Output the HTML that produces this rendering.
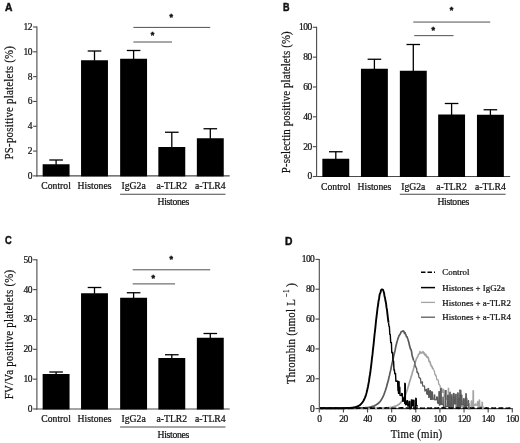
<!DOCTYPE html>
<html><head><meta charset="utf-8"><title>Figure</title>
<style>
html,body{margin:0;padding:0;background:#fff;}
svg{display:block;filter:blur(0.3px);font-family:"Liberation Serif",serif;fill:#111;}
text{stroke:#111;stroke-width:0.22px;}
</style></head><body>
<svg width="520" height="443" viewBox="0 0 520 443">
<rect width="520" height="443" fill="#fff"/>
<line x1="36.90" y1="26.50" x2="36.90" y2="176.40" stroke="#4a4a4a" stroke-width="1.1"/>
<line x1="36.40" y1="175.90" x2="229.70" y2="175.90" stroke="#4a4a4a" stroke-width="1.1"/>
<line x1="33.10" y1="175.90" x2="36.90" y2="175.90" stroke="#4a4a4a" stroke-width="1.1"/>
<text x="31.90" y="178.80" font-size="9.5" text-anchor="end" letter-spacing="-0.55">0</text>
<line x1="33.10" y1="151.08" x2="36.90" y2="151.08" stroke="#4a4a4a" stroke-width="1.1"/>
<text x="31.90" y="153.98" font-size="9.5" text-anchor="end" letter-spacing="-0.55">2</text>
<line x1="33.10" y1="126.27" x2="36.90" y2="126.27" stroke="#4a4a4a" stroke-width="1.1"/>
<text x="31.90" y="129.17" font-size="9.5" text-anchor="end" letter-spacing="-0.55">4</text>
<line x1="33.10" y1="101.45" x2="36.90" y2="101.45" stroke="#4a4a4a" stroke-width="1.1"/>
<text x="31.90" y="104.35" font-size="9.5" text-anchor="end" letter-spacing="-0.55">6</text>
<line x1="33.10" y1="76.63" x2="36.90" y2="76.63" stroke="#4a4a4a" stroke-width="1.1"/>
<text x="31.90" y="79.53" font-size="9.5" text-anchor="end" letter-spacing="-0.55">8</text>
<line x1="33.10" y1="51.82" x2="36.90" y2="51.82" stroke="#4a4a4a" stroke-width="1.1"/>
<text x="31.90" y="54.72" font-size="9.5" text-anchor="end" letter-spacing="-0.55">10</text>
<line x1="33.10" y1="27.00" x2="36.90" y2="27.00" stroke="#4a4a4a" stroke-width="1.1"/>
<text x="31.90" y="29.90" font-size="9.5" text-anchor="end" letter-spacing="-0.55">12</text>
<rect x="42.65" y="164.25" width="26.9" height="12.15" fill="#000"/>
<line x1="56.10" y1="160.00" x2="56.10" y2="164.75" stroke="#000" stroke-width="1.3"/>
<line x1="49.30" y1="160.00" x2="62.90" y2="160.00" stroke="#000" stroke-width="1.3"/>
<rect x="81.05" y="60.25" width="26.9" height="116.15" fill="#000"/>
<line x1="94.50" y1="51.00" x2="94.50" y2="60.75" stroke="#000" stroke-width="1.3"/>
<line x1="87.70" y1="51.00" x2="101.30" y2="51.00" stroke="#000" stroke-width="1.3"/>
<rect x="120.15" y="58.75" width="26.9" height="117.65" fill="#000"/>
<line x1="133.60" y1="50.50" x2="133.60" y2="59.25" stroke="#000" stroke-width="1.3"/>
<line x1="126.80" y1="50.50" x2="140.40" y2="50.50" stroke="#000" stroke-width="1.3"/>
<rect x="158.35" y="147.00" width="26.9" height="29.40" fill="#000"/>
<line x1="171.80" y1="132.25" x2="171.80" y2="147.50" stroke="#000" stroke-width="1.3"/>
<line x1="165.00" y1="132.25" x2="178.60" y2="132.25" stroke="#000" stroke-width="1.3"/>
<rect x="196.85" y="138.25" width="26.9" height="38.15" fill="#000"/>
<line x1="210.30" y1="128.75" x2="210.30" y2="138.75" stroke="#000" stroke-width="1.3"/>
<line x1="203.50" y1="128.75" x2="217.10" y2="128.75" stroke="#000" stroke-width="1.3"/>
<text x="56.10" y="189.00" font-size="9.7" text-anchor="middle" >Control</text>
<text x="94.50" y="189.00" font-size="9.7" text-anchor="middle" >Histones</text>
<text x="133.60" y="189.00" font-size="9.7" text-anchor="middle" >IgG2a</text>
<text x="171.80" y="189.00" font-size="9.7" text-anchor="middle" >a-TLR2</text>
<text x="210.30" y="189.00" font-size="9.7" text-anchor="middle" >a-TLR4</text>
<line x1="120.10" y1="194.25" x2="225.50" y2="194.25" stroke="#4a4a4a" stroke-width="1"/>
<text x="173.25" y="204.85" font-size="9.7" text-anchor="middle" letter-spacing="-0.3">Histones</text>
<line x1="133.40" y1="27.40" x2="210.20" y2="27.40" stroke="#505050" stroke-width="1.0"/>
<text x="171.30" y="19.90" font-size="9" text-anchor="middle" font-family="Liberation Sans, sans-serif" font-weight="bold" style="stroke-width:0.5px">*</text>
<line x1="133.40" y1="42.00" x2="172.00" y2="42.00" stroke="#505050" stroke-width="1.0"/>
<text x="152.40" y="38.20" font-size="9" text-anchor="middle" font-family="Liberation Sans, sans-serif" font-weight="bold" style="stroke-width:0.5px">*</text>
<text transform="translate(13.00,102.60) rotate(-90) scale(0.815,1)" font-size="13.3" letter-spacing="0.29" text-anchor="middle">PS-positive platelets (%)</text>
<text transform="translate(5,10.6) scale(1.0,1)" font-size="10.3" font-weight="bold" font-family="Liberation Sans, sans-serif" style="stroke-width:0.45px">A</text>
<line x1="316.60" y1="26.80" x2="316.60" y2="177.00" stroke="#4a4a4a" stroke-width="1.1"/>
<line x1="316.10" y1="176.50" x2="510.20" y2="176.50" stroke="#4a4a4a" stroke-width="1.1"/>
<line x1="312.80" y1="176.50" x2="316.60" y2="176.50" stroke="#4a4a4a" stroke-width="1.1"/>
<text x="311.60" y="179.40" font-size="9.5" text-anchor="end" letter-spacing="-0.55">0</text>
<line x1="312.80" y1="146.66" x2="316.60" y2="146.66" stroke="#4a4a4a" stroke-width="1.1"/>
<text x="311.60" y="149.56" font-size="9.5" text-anchor="end" letter-spacing="-0.55">20</text>
<line x1="312.80" y1="116.82" x2="316.60" y2="116.82" stroke="#4a4a4a" stroke-width="1.1"/>
<text x="311.60" y="119.72" font-size="9.5" text-anchor="end" letter-spacing="-0.55">40</text>
<line x1="312.80" y1="86.98" x2="316.60" y2="86.98" stroke="#4a4a4a" stroke-width="1.1"/>
<text x="311.60" y="89.88" font-size="9.5" text-anchor="end" letter-spacing="-0.55">60</text>
<line x1="312.80" y1="57.14" x2="316.60" y2="57.14" stroke="#4a4a4a" stroke-width="1.1"/>
<text x="311.60" y="60.04" font-size="9.5" text-anchor="end" letter-spacing="-0.55">80</text>
<line x1="312.80" y1="27.30" x2="316.60" y2="27.30" stroke="#4a4a4a" stroke-width="1.1"/>
<text x="311.60" y="30.20" font-size="9.5" text-anchor="end" letter-spacing="-0.55">100</text>
<rect x="322.35" y="158.75" width="26.9" height="18.25" fill="#000"/>
<line x1="335.80" y1="151.75" x2="335.80" y2="159.25" stroke="#000" stroke-width="1.3"/>
<line x1="329.00" y1="151.75" x2="342.60" y2="151.75" stroke="#000" stroke-width="1.3"/>
<rect x="360.95" y="68.75" width="26.9" height="108.25" fill="#000"/>
<line x1="374.40" y1="59.25" x2="374.40" y2="69.25" stroke="#000" stroke-width="1.3"/>
<line x1="367.60" y1="59.25" x2="381.20" y2="59.25" stroke="#000" stroke-width="1.3"/>
<rect x="399.85" y="70.75" width="26.9" height="106.25" fill="#000"/>
<line x1="413.30" y1="44.50" x2="413.30" y2="71.25" stroke="#000" stroke-width="1.3"/>
<line x1="406.50" y1="44.50" x2="420.10" y2="44.50" stroke="#000" stroke-width="1.3"/>
<rect x="438.15" y="114.50" width="26.9" height="62.50" fill="#000"/>
<line x1="451.60" y1="103.50" x2="451.60" y2="115.00" stroke="#000" stroke-width="1.3"/>
<line x1="444.80" y1="103.50" x2="458.40" y2="103.50" stroke="#000" stroke-width="1.3"/>
<rect x="476.95" y="114.75" width="26.9" height="62.25" fill="#000"/>
<line x1="490.40" y1="109.75" x2="490.40" y2="115.25" stroke="#000" stroke-width="1.3"/>
<line x1="483.60" y1="109.75" x2="497.20" y2="109.75" stroke="#000" stroke-width="1.3"/>
<text x="335.80" y="189.60" font-size="9.7" text-anchor="middle" >Control</text>
<text x="374.40" y="189.60" font-size="9.7" text-anchor="middle" >Histones</text>
<text x="413.30" y="189.60" font-size="9.7" text-anchor="middle" >IgG2a</text>
<text x="451.60" y="189.60" font-size="9.7" text-anchor="middle" >a-TLR2</text>
<text x="490.40" y="189.60" font-size="9.7" text-anchor="middle" >a-TLR4</text>
<line x1="399.80" y1="194.25" x2="505.60" y2="194.25" stroke="#4a4a4a" stroke-width="1"/>
<text x="453.15" y="204.85" font-size="9.7" text-anchor="middle" letter-spacing="-0.3">Histones</text>
<line x1="413.25" y1="22.05" x2="490.20" y2="22.05" stroke="#505050" stroke-width="1.0"/>
<text x="451.60" y="13.40" font-size="9" text-anchor="middle" font-family="Liberation Sans, sans-serif" font-weight="bold" style="stroke-width:0.5px">*</text>
<line x1="414.25" y1="35.65" x2="453.50" y2="35.65" stroke="#505050" stroke-width="1.0"/>
<text x="433.30" y="32.60" font-size="9" text-anchor="middle" font-family="Liberation Sans, sans-serif" font-weight="bold" style="stroke-width:0.5px">*</text>
<text transform="translate(290.40,102.20) rotate(-90) scale(0.815,1)" font-size="13.3" letter-spacing="0.17" text-anchor="middle">P-selectin positive platelets (%)</text>
<text transform="translate(282.9,10.6) scale(0.88,1)" font-size="10.3" font-weight="bold" font-family="Liberation Sans, sans-serif" style="stroke-width:0.45px">B</text>
<line x1="36.90" y1="259.30" x2="36.90" y2="409.50" stroke="#4a4a4a" stroke-width="1.1"/>
<line x1="36.40" y1="409.00" x2="229.70" y2="409.00" stroke="#4a4a4a" stroke-width="1.1"/>
<line x1="33.10" y1="409.00" x2="36.90" y2="409.00" stroke="#4a4a4a" stroke-width="1.1"/>
<text x="31.90" y="411.90" font-size="9.5" text-anchor="end" letter-spacing="-0.55">0</text>
<line x1="33.10" y1="379.16" x2="36.90" y2="379.16" stroke="#4a4a4a" stroke-width="1.1"/>
<text x="31.90" y="382.06" font-size="9.5" text-anchor="end" letter-spacing="-0.55">10</text>
<line x1="33.10" y1="349.32" x2="36.90" y2="349.32" stroke="#4a4a4a" stroke-width="1.1"/>
<text x="31.90" y="352.22" font-size="9.5" text-anchor="end" letter-spacing="-0.55">20</text>
<line x1="33.10" y1="319.48" x2="36.90" y2="319.48" stroke="#4a4a4a" stroke-width="1.1"/>
<text x="31.90" y="322.38" font-size="9.5" text-anchor="end" letter-spacing="-0.55">30</text>
<line x1="33.10" y1="289.64" x2="36.90" y2="289.64" stroke="#4a4a4a" stroke-width="1.1"/>
<text x="31.90" y="292.54" font-size="9.5" text-anchor="end" letter-spacing="-0.55">40</text>
<line x1="33.10" y1="259.80" x2="36.90" y2="259.80" stroke="#4a4a4a" stroke-width="1.1"/>
<text x="31.90" y="262.70" font-size="9.5" text-anchor="end" letter-spacing="-0.55">50</text>
<rect x="42.65" y="374.00" width="26.9" height="35.50" fill="#000"/>
<line x1="56.10" y1="372.00" x2="56.10" y2="374.50" stroke="#000" stroke-width="1.3"/>
<line x1="49.30" y1="372.00" x2="62.90" y2="372.00" stroke="#000" stroke-width="1.3"/>
<rect x="81.05" y="293.25" width="26.9" height="116.25" fill="#000"/>
<line x1="94.50" y1="287.50" x2="94.50" y2="293.75" stroke="#000" stroke-width="1.3"/>
<line x1="87.70" y1="287.50" x2="101.30" y2="287.50" stroke="#000" stroke-width="1.3"/>
<rect x="120.15" y="297.75" width="26.9" height="111.75" fill="#000"/>
<line x1="133.60" y1="292.75" x2="133.60" y2="298.25" stroke="#000" stroke-width="1.3"/>
<line x1="126.80" y1="292.75" x2="140.40" y2="292.75" stroke="#000" stroke-width="1.3"/>
<rect x="158.35" y="358.00" width="26.9" height="51.50" fill="#000"/>
<line x1="171.80" y1="354.75" x2="171.80" y2="358.50" stroke="#000" stroke-width="1.3"/>
<line x1="165.00" y1="354.75" x2="178.60" y2="354.75" stroke="#000" stroke-width="1.3"/>
<rect x="196.85" y="337.75" width="26.9" height="71.75" fill="#000"/>
<line x1="210.30" y1="333.50" x2="210.30" y2="338.25" stroke="#000" stroke-width="1.3"/>
<line x1="203.50" y1="333.50" x2="217.10" y2="333.50" stroke="#000" stroke-width="1.3"/>
<text x="56.10" y="422.10" font-size="9.7" text-anchor="middle" >Control</text>
<text x="94.50" y="422.10" font-size="9.7" text-anchor="middle" >Histones</text>
<text x="133.60" y="422.10" font-size="9.7" text-anchor="middle" >IgG2a</text>
<text x="171.80" y="422.10" font-size="9.7" text-anchor="middle" >a-TLR2</text>
<text x="210.30" y="422.10" font-size="9.7" text-anchor="middle" >a-TLR4</text>
<line x1="120.10" y1="427.00" x2="225.50" y2="427.00" stroke="#4a4a4a" stroke-width="1"/>
<text x="173.25" y="437.60" font-size="9.7" text-anchor="middle" letter-spacing="-0.3">Histones</text>
<line x1="132.70" y1="269.80" x2="210.20" y2="269.80" stroke="#505050" stroke-width="1.0"/>
<text x="171.20" y="262.30" font-size="9" text-anchor="middle" font-family="Liberation Sans, sans-serif" font-weight="bold" style="stroke-width:0.5px">*</text>
<line x1="132.70" y1="283.90" x2="175.00" y2="283.90" stroke="#505050" stroke-width="1.0"/>
<text x="153.30" y="280.80" font-size="9" text-anchor="middle" font-family="Liberation Sans, sans-serif" font-weight="bold" style="stroke-width:0.5px">*</text>
<text transform="translate(13.00,334.40) rotate(-90) scale(0.815,1)" font-size="13.3" letter-spacing="0.29" text-anchor="middle">FV/Va positive platelets (%)</text>
<text transform="translate(5.1,244.2) scale(0.9,1)" font-size="10.3" font-weight="bold" font-family="Liberation Sans, sans-serif" style="stroke-width:0.45px">C</text>
<line x1="319.30" y1="258.90" x2="319.30" y2="409.10" stroke="#4a4a4a" stroke-width="1.1"/>
<line x1="318.80" y1="408.60" x2="512.80" y2="408.60" stroke="#4a4a4a" stroke-width="1.1"/>
<line x1="315.50" y1="408.60" x2="319.30" y2="408.60" stroke="#4a4a4a" stroke-width="1.1"/>
<text x="314.30" y="411.50" font-size="9.5" text-anchor="end" letter-spacing="-0.55">0</text>
<line x1="315.50" y1="378.76" x2="319.30" y2="378.76" stroke="#4a4a4a" stroke-width="1.1"/>
<text x="314.30" y="381.66" font-size="9.5" text-anchor="end" letter-spacing="-0.55">20</text>
<line x1="315.50" y1="348.92" x2="319.30" y2="348.92" stroke="#4a4a4a" stroke-width="1.1"/>
<text x="314.30" y="351.82" font-size="9.5" text-anchor="end" letter-spacing="-0.55">40</text>
<line x1="315.50" y1="319.08" x2="319.30" y2="319.08" stroke="#4a4a4a" stroke-width="1.1"/>
<text x="314.30" y="321.98" font-size="9.5" text-anchor="end" letter-spacing="-0.55">60</text>
<line x1="315.50" y1="289.24" x2="319.30" y2="289.24" stroke="#4a4a4a" stroke-width="1.1"/>
<text x="314.30" y="292.14" font-size="9.5" text-anchor="end" letter-spacing="-0.55">80</text>
<line x1="315.50" y1="259.40" x2="319.30" y2="259.40" stroke="#4a4a4a" stroke-width="1.1"/>
<text x="314.30" y="262.30" font-size="9.5" text-anchor="end" letter-spacing="-0.55">100</text>
<line x1="319.30" y1="408.60" x2="319.30" y2="412.50" stroke="#4a4a4a" stroke-width="1.1"/>
<text x="319.30" y="421.50" font-size="9.5" text-anchor="middle" letter-spacing="-0.55">0</text>
<line x1="343.43" y1="408.60" x2="343.43" y2="412.50" stroke="#4a4a4a" stroke-width="1.1"/>
<text x="343.43" y="421.50" font-size="9.5" text-anchor="middle" letter-spacing="-0.55">20</text>
<line x1="367.55" y1="408.60" x2="367.55" y2="412.50" stroke="#4a4a4a" stroke-width="1.1"/>
<text x="367.55" y="421.50" font-size="9.5" text-anchor="middle" letter-spacing="-0.55">40</text>
<line x1="391.67" y1="408.60" x2="391.67" y2="412.50" stroke="#4a4a4a" stroke-width="1.1"/>
<text x="391.67" y="421.50" font-size="9.5" text-anchor="middle" letter-spacing="-0.55">60</text>
<line x1="415.80" y1="408.60" x2="415.80" y2="412.50" stroke="#4a4a4a" stroke-width="1.1"/>
<text x="415.80" y="421.50" font-size="9.5" text-anchor="middle" letter-spacing="-0.55">80</text>
<line x1="439.92" y1="408.60" x2="439.92" y2="412.50" stroke="#4a4a4a" stroke-width="1.1"/>
<text x="439.92" y="421.50" font-size="9.5" text-anchor="middle" letter-spacing="-0.55">100</text>
<line x1="464.05" y1="408.60" x2="464.05" y2="412.50" stroke="#4a4a4a" stroke-width="1.1"/>
<text x="464.05" y="421.50" font-size="9.5" text-anchor="middle" letter-spacing="-0.55">120</text>
<line x1="488.17" y1="408.60" x2="488.17" y2="412.50" stroke="#4a4a4a" stroke-width="1.1"/>
<text x="488.17" y="421.50" font-size="9.5" text-anchor="middle" letter-spacing="-0.55">140</text>
<line x1="512.30" y1="408.60" x2="512.30" y2="412.50" stroke="#4a4a4a" stroke-width="1.1"/>
<text x="512.30" y="421.50" font-size="9.5" text-anchor="middle" letter-spacing="-0.55">160</text>
<text transform="translate(416.6,438.3) scale(0.815,1)" font-size="13.3" letter-spacing="0.29" text-anchor="middle">Time (min)</text>
<text transform="translate(294.6,333.5) rotate(-90) scale(0.815,1)" font-size="13.3" letter-spacing="0.29" text-anchor="middle">Thrombin (nmol L<tspan dy="-6" dx="2.4" font-size="8">−</tspan><tspan font-size="8" dx="0.6">1</tspan><tspan dy="6" dx="2.8">)</tspan></text>
<text x="285.1" y="245" font-size="10.3" font-weight="bold" font-family="Liberation Sans, sans-serif" style="stroke-width:0.45px">D</text>
<path d="M320.0,408.2 L320.5,408.1 L321.0,408.3 L321.5,408.1 L322.0,408.3 L322.5,408.2 L323.0,408.1 L323.5,408.3 L324.0,408.1 L324.5,408.2 L325.0,408.1 L325.5,408.1 L326.0,408.2 L326.5,408.3 L327.0,408.1 L327.5,408.2 L328.0,408.3 L328.5,408.4 L329.0,408.3 L329.5,408.2 L330.0,408.4 L330.5,408.1 L331.0,408.4 L331.5,408.2 L332.0,408.1 L332.5,408.1 L333.0,408.2 L333.5,408.3 L334.0,408.2 L334.5,408.3 L335.0,408.3 L335.5,408.2 L336.0,408.3 L336.5,408.1 L337.0,408.1 L337.5,408.2 L338.0,408.3 L338.5,408.2 L339.0,408.2 L339.5,408.3 L340.0,408.2 L340.5,408.2 L341.0,408.3 L341.5,408.3 L342.0,408.2 L342.5,408.3 L343.0,408.3 L343.5,408.4 L344.0,408.3 L344.5,408.2 L345.0,408.4 L345.5,408.1 L346.0,408.2 L346.5,408.3 L347.0,408.1 L347.5,408.2 L348.0,408.1 L348.5,408.3 L349.0,408.3 L349.5,408.3 L350.0,408.4 L350.5,408.2 L351.0,408.3 L351.5,408.3 L352.0,408.3 L352.5,408.2 L353.0,408.4 L353.5,408.4 L354.0,408.2 L354.5,408.3 L355.0,408.1 L355.5,408.3 L356.0,408.3 L356.5,408.4 L357.0,408.3 L357.5,408.2 L358.0,408.2 L358.5,408.3 L359.0,408.1 L359.5,408.2 L360.0,408.1 L360.5,408.1 L361.0,408.1 L361.5,408.3 L362.0,408.1 L362.5,408.2 L363.0,408.2 L363.5,408.4 L364.0,408.1 L364.5,408.2 L365.0,408.3 L365.5,408.4 L366.0,408.3 L366.5,408.4 L367.0,408.2 L367.5,408.2 L368.0,408.2 L368.5,408.4 L369.0,408.4 L369.5,408.1 L370.0,408.1 L370.5,408.2 L371.0,408.1 L371.5,408.2 L372.0,408.3 L372.5,408.2 L373.0,408.1 L373.5,408.2 L374.0,408.2 L374.5,408.2 L375.0,408.3 L375.5,408.3 L376.0,408.2 L376.5,408.2 L377.0,408.2 L377.5,408.0 L378.0,408.3 L378.5,408.3 L379.0,408.3 L379.5,408.2 L380.0,408.1 L380.5,408.1 L381.0,408.0 L381.5,408.1 L382.0,408.0 L382.5,407.9 L383.0,408.0 L383.5,407.9 L384.0,408.0 L384.5,407.9 L385.0,407.8 L385.5,407.8 L386.0,407.8 L386.5,407.8 L387.0,407.7 L387.5,407.9 L388.0,407.8 L388.5,407.6 L389.0,407.6 L389.5,407.5 L390.0,407.5 L390.5,407.3 L391.0,407.5 L391.5,407.4 L392.0,407.2 L392.5,407.1 L393.0,406.8 L393.5,406.7 L394.0,406.6 L394.5,406.4 L395.0,406.4 L395.5,406.0 L396.0,405.8 L396.5,405.8 L397.0,405.5 L397.5,405.1 L398.0,404.9 L398.5,404.4 L399.0,404.2 L399.5,403.9 L400.0,403.4 L400.5,402.9 L401.0,402.2 L401.5,401.7 L402.0,401.0 L402.5,400.4 L403.0,399.6 L403.5,398.8 L404.0,397.7 L404.5,396.6 L405.0,395.7 L405.5,394.5 L406.0,393.2 L406.5,391.9 L407.0,390.5 L407.5,389.2 L408.0,387.2 L408.5,385.9 L409.0,384.1 L409.5,382.2 L410.0,380.4 L410.5,378.9 L411.0,377.1 L411.5,375.7 L412.0,374.2 L412.5,371.9 L413.0,370.6 L413.5,368.9 L414.0,367.1 L414.5,364.9 L415.0,363.2 L415.5,361.6 L416.0,360.1 L416.5,358.7 L417.0,357.8 L417.5,356.9 L418.0,355.8 L418.5,354.5 L419.0,354.1 L419.5,353.8 L420.0,351.7 L420.5,352.6 L421.0,353.0 L421.5,352.6 L422.0,352.6 L422.5,352.1 L423.0,351.7 L423.5,353.3 L424.0,352.7 L424.5,354.1 L425.0,355.0 L425.5,354.3 L426.0,355.0 L426.5,356.9 L427.0,357.1 L427.5,356.7 L428.0,357.5 L428.5,358.5 L429.0,361.1 L429.5,361.9 L430.0,361.6 L430.5,364.1 L431.0,365.6 L431.5,366.1 L432.0,366.6 L432.5,368.2 L433.0,368.6 L433.5,369.5" fill="none" stroke="#a3a3a3" stroke-width="1.7" stroke-linejoin="round"/>
<path d="M433.5,369.5 L434.0,370.7 L434.5,371.1 L434.9,374.7 L435.4,374.5 L435.8,376.1 L436.3,375.8 L436.7,379.5 L437.3,379.5 L437.7,380.0 L438.3,380.1 L438.7,384.1 L439.1,384.1 L439.5,385.1 L440.0,385.3 L440.4,388.2 L441.0,388.2 L441.4,388.3 L441.8,388.1 L442.2,392.2 L442.8,392.3 L443.2,389.3 L443.8,389.3 L444.2,396.7 L445.5,396.7 L445.7,390.7 L446.4,390.5 L446.6,399.4 L448.2,399.1 L448.3,388.2 L448.7,388.4 L448.8,402.3 L449.8,402.5 L450.0,395.5 L450.8,395.2 L450.9,404.5 L452.2,404.9 L452.4,396.6 L452.9,396.4 L453.1,403.6 L454.5,403.2 L454.7,397.0 L455.2,397.2 L455.3,403.4 L456.8,403.8 L457.0,394.3 L457.7,394.1 L457.8,405.7 L459.5,405.9 L459.6,395.3 L460.2,395.5 L460.3,404.3 L461.6,403.9 L460.7,406.7 L460.8,390.2 L461.3,390.6 L461.4,406.7 L461.7,399.8 L462.1,400.2 L462.2,406.8 L463.5,406.7 L463.6,400.0 L464.0,400.1 L464.1,405.9 L465.1,405.6 L465.2,399.4 L465.7,399.4 L465.8,407.9 L466.7,407.7 L466.9,398.7 L467.3,398.6 L467.4,403.9 L468.7,403.9 L468.8,403.6 L469.5,404.1 L469.6,408.7 L471.1,408.7 L471.2,401.2 L471.6,400.8 L471.8,405.9 L472.7,406.1 L472.9,403.4 L473.3,403.2 L472.9,408.4 L473.0,390.6 L473.5,391.0 L473.6,408.4 L473.8,405.0 L474.9,405.4 L475.1,404.1 L475.8,403.9 L476.0,405.2 L477.3,405.2 L477.4,401.9 L477.9,401.5 L478.0,406.3 L479.1,406.1 L479.3,404.9 L479.9,405.1 L479.1,408.4 L479.2,399.8 L479.7,400.2 L479.8,408.4 L480.1,408.7 L480.7,408.5 L481.1,406.2 L481.7,405.8 L482.1,408.7 L482.9,408.7 L481.9,408.4 L482.0,402.0 L482.5,402.4 L482.6,408.4 L483.3,407.1 L483.9,407.1" fill="none" stroke="#a3a3a3" stroke-width="1.25" stroke-linejoin="round"/>
<path d="M320.0,408.4 L320.5,408.3 L321.0,408.3 L321.5,408.3 L322.0,408.4 L322.5,408.3 L323.0,408.3 L323.5,408.2 L324.0,408.1 L324.5,408.1 L325.0,408.2 L325.5,408.1 L326.0,408.4 L326.5,408.3 L327.0,408.3 L327.5,408.3 L328.0,408.3 L328.5,408.2 L329.0,408.1 L329.5,408.3 L330.0,408.3 L330.5,408.2 L331.0,408.3 L331.5,408.3 L332.0,408.1 L332.5,408.3 L333.0,408.2 L333.5,408.1 L334.0,408.2 L334.5,408.3 L335.0,408.2 L335.5,408.3 L336.0,408.4 L336.5,408.2 L337.0,408.2 L337.5,408.2 L338.0,408.3 L338.5,408.3 L339.0,408.3 L339.5,408.3 L340.0,408.1 L340.5,408.1 L341.0,408.2 L341.5,408.3 L342.0,408.2 L342.5,408.3 L343.0,408.1 L343.5,408.1 L344.0,408.2 L344.5,408.3 L345.0,408.3 L345.5,408.3 L346.0,408.2 L346.5,408.2 L347.0,408.2 L347.5,408.2 L348.0,408.1 L348.5,408.3 L349.0,408.1 L349.5,408.4 L350.0,408.4 L350.5,408.1 L351.0,408.2 L351.5,408.3 L352.0,408.3 L352.5,408.2 L353.0,408.1 L353.5,408.1 L354.0,408.3 L354.5,408.1 L355.0,408.2 L355.5,408.1 L356.0,408.2 L356.5,408.3 L357.0,408.0 L357.5,408.2 L358.0,408.1 L358.5,408.2 L359.0,408.2 L359.5,408.0 L360.0,408.2 L360.5,408.0 L361.0,407.9 L361.5,407.9 L362.0,408.0 L362.5,407.9 L363.0,407.9 L363.5,407.8 L364.0,407.8 L364.5,407.8 L365.0,407.9 L365.5,407.6 L366.0,407.8 L366.5,407.8 L367.0,407.5 L367.5,407.7 L368.0,407.5 L368.5,407.5 L369.0,407.3 L369.5,407.2 L370.0,407.1 L370.5,407.2 L371.0,406.9 L371.5,406.7 L372.0,406.6 L372.5,406.4 L373.0,406.2 L373.5,406.0 L374.0,406.1 L374.5,405.7 L375.0,405.6 L375.5,405.2 L376.0,404.9 L376.5,404.6 L377.0,404.2 L377.5,403.9 L378.0,403.7 L378.5,403.2 L379.0,402.7 L379.5,402.1 L380.0,401.6 L380.5,401.0 L381.0,400.2 L381.5,399.5 L382.0,398.4 L382.5,397.7 L383.0,396.6 L383.5,395.6 L384.0,394.4 L384.5,393.0 L385.0,391.5 L385.5,390.3 L386.0,388.4 L386.5,386.9 L387.0,385.1 L387.5,383.2 L388.0,381.5 L388.5,379.8 L389.0,377.1 L389.5,375.4 L390.0,372.9 L390.5,370.9 L391.0,368.5 L391.5,366.0 L392.0,363.7 L392.5,361.4 L393.0,359.7 L393.5,357.0 L394.0,354.4 L394.5,352.8 L395.0,350.7 L395.5,348.1 L396.0,345.7 L396.5,343.8 L397.0,341.8 L397.5,340.3 L398.0,338.4 L398.5,337.1 L399.0,335.7 L399.5,334.9 L400.0,334.5 L400.5,333.4 L401.0,332.1 L401.5,331.6 L402.0,331.5 L402.5,331.2 L403.0,331.2 L403.5,330.9 L404.0,331.7 L404.5,333.4 L405.0,332.6 L405.5,334.1 L406.0,335.2 L406.5,336.7 L407.0,336.7 L407.5,338.2 L408.0,339.5 L408.5,341.3 L409.0,343.0 L409.5,345.6 L410.0,347.2 L410.5,349.1 L411.0,349.5 L411.5,351.4 L412.0,354.7 L412.5,357.0 L413.0,358.2 L413.5,360.4" fill="none" stroke="#5a5a5a" stroke-width="1.7" stroke-linejoin="round"/>
<path d="M413.5,360.4 L414.0,361.1 L414.7,361.5 L415.1,366.3 L415.6,366.0 L416.0,367.8 L416.6,368.1 L417.0,372.4 L417.7,372.0 L418.1,373.9 L418.5,373.5 L418.9,377.5 L419.7,377.7 L420.1,378.8 L420.5,378.5 L420.9,383.1 L421.4,382.9 L421.8,382.0 L422.3,381.8 L422.7,386.0 L423.6,386.2 L424.0,386.3 L424.5,386.0 L424.9,391.0 L425.7,390.7 L426.1,389.3 L426.5,389.6 L426.7,394.0 L427.8,394.4 L427.9,388.7 L428.6,388.5 L428.7,397.4 L429.8,397.2 L429.9,390.8 L430.4,390.6 L430.6,399.4 L431.5,399.3 L431.7,391.7 L432.5,392.1 L432.6,399.3 L434.1,398.9 L434.3,395.1 L434.7,394.8 L434.9,400.0 L436.6,399.7 L436.7,396.8 L437.4,397.1 L437.6,403.1 L438.8,403.4 L438.9,391.6 L439.2,391.6 L439.4,405.2 L440.3,404.8 L440.5,388.8 L441.2,388.6 L441.4,404.4 L442.8,404.2 L442.9,397.1 L443.2,397.3 L443.4,407.2 L445.0,406.8 L445.2,390.9 L445.7,390.6 L445.8,406.5 L447.4,406.3 L447.6,395.3 L448.3,395.4 L448.4,406.9 L449.6,407.1 L449.8,392.6 L450.2,392.2 L450.3,406.4 L451.5,406.8 L451.7,394.7 L452.0,394.3 L452.1,408.2 L453.4,408.0 L453.6,393.3 L454.2,393.7 L454.4,403.8 L455.5,403.9 L455.7,394.4 L456.1,394.2 L456.2,407.8 L457.6,407.7 L457.8,392.7 L458.2,393.0 L458.3,408.7 L459.3,408.6 L459.5,398.3 L459.8,398.1 L459.9,403.4 L461.3,403.8 L459.7,408.1 L459.8,390.0 L460.3,390.4 L460.4,408.1 L461.4,394.9 L461.9,395.2 L462.0,404.6 L463.4,404.3 L463.6,398.6 L464.0,398.7 L464.1,406.3 L465.3,406.5 L465.5,397.7 L466.1,397.7 L465.7,408.4 L465.8,393.6 L466.3,394.0 L466.4,408.4 L466.6,405.2 L467.9,405.3 L468.1,400.9 L468.6,400.6 L468.7,408.7 L469.9,408.7" fill="none" stroke="#5a5a5a" stroke-width="1.25" stroke-linejoin="round"/>
<path d="M320.0,408.2 L320.5,408.2 L321.0,408.4 L321.5,408.4 L322.0,408.2 L322.5,408.2 L323.0,408.3 L323.5,408.2 L324.0,408.1 L324.5,408.4 L325.0,408.2 L325.5,408.3 L326.0,408.2 L326.5,408.4 L327.0,408.2 L327.5,408.1 L328.0,408.1 L328.5,408.3 L329.0,408.3 L329.5,408.4 L330.0,408.1 L330.5,408.3 L331.0,408.2 L331.5,408.2 L332.0,408.1 L332.5,408.2 L333.0,408.3 L333.5,408.4 L334.0,408.1 L334.5,408.2 L335.0,408.3 L335.5,408.4 L336.0,408.1 L336.5,408.1 L337.0,408.4 L337.5,408.4 L338.0,408.2 L338.5,408.1 L339.0,408.4 L339.5,408.2 L340.0,408.3 L340.5,408.3 L341.0,408.3 L341.5,408.1 L342.0,408.3 L342.5,408.1 L343.0,408.2 L343.5,408.3 L344.0,408.3 L344.5,408.1 L345.0,408.1 L345.5,408.1 L346.0,408.1 L346.5,408.1 L347.0,408.0 L347.5,408.0 L348.0,408.1 L348.5,408.2 L349.0,407.9 L349.5,408.0 L350.0,408.0 L350.5,407.8 L351.0,408.0 L351.5,407.7 L352.0,407.8 L352.5,407.7 L353.0,407.7 L353.5,407.5 L354.0,407.4 L354.5,407.4 L355.0,407.2 L355.5,407.2 L356.0,407.0 L356.5,406.8 L357.0,406.5 L357.5,406.5 L358.0,406.2 L358.5,405.9 L359.0,405.7 L359.5,405.4 L360.0,405.0 L360.5,404.5 L361.0,404.1 L361.5,403.5 L362.0,402.9 L362.5,402.3 L363.0,401.5 L363.5,400.7 L364.0,399.8 L364.5,398.6 L365.0,397.6 L365.5,396.1 L366.0,394.8 L366.5,393.1 L367.0,391.1 L367.5,388.8 L368.0,386.5 L368.5,383.6 L369.0,381.2 L369.5,377.2 L370.0,374.5 L370.5,370.9 L371.0,366.8 L371.5,362.8 L372.0,358.0 L372.5,354.4 L373.0,349.4 L373.5,345.2 L374.0,340.4 L374.5,335.0 L375.0,330.9 L375.5,326.3 L376.0,321.0 L376.5,316.8 L377.0,312.9 L377.5,308.4 L378.0,305.3 L378.5,301.3 L379.0,299.0 L379.5,295.3 L380.0,293.6 L380.5,292.6 L381.0,290.2 L381.5,289.5 L382.0,289.6 L382.5,289.5 L383.0,289.8 L383.5,291.2 L384.0,292.7 L384.5,296.0 L385.0,297.9 L385.5,301.1 L386.0,303.0 L386.5,307.4 L387.0,310.0 L387.5,314.6 L388.0,318.9 L388.5,322.7" fill="none" stroke="#000" stroke-width="1.9" stroke-linejoin="round"/>
<path d="M388.5,322.7 L389.0,326.3 L389.4,326.8 L389.8,334.4 L390.3,334.7 L390.7,342.6 L391.4,342.5 L391.8,352.8 L392.6,352.4 L393.0,361.0 L393.6,361.2 L394.0,370.1 L394.4,369.7 L394.8,373.8 L395.5,373.4 L395.9,381.3 L396.7,380.9 L397.1,381.4 L397.6,381.1 L398.0,390.8 L399.0,390.9 L398.5,393.3 L398.6,381.5 L399.1,381.9 L399.2,393.3 L399.4,387.5 L399.8,387.2 L400.0,395.3 L401.6,395.6 L401.7,393.5 L402.3,393.6 L402.7,401.2 L403.5,401.1 L403.9,397.9 L404.6,397.4 L404.7,403.4 L404.8,383.3 L405.3,383.7 L405.4,403.4 L405.6,404.7 L406.7,404.4 L406.8,400.9 L407.6,400.6 L407.8,406.0 L409.1,406.1 L409.2,401.8 L409.7,401.4 L409.8,408.7 L411.3,408.3 L411.4,400.0 L412.1,399.9 L412.3,405.7 L413.2,405.5 L413.3,400.5 L414.0,400.2 L414.1,408.7 L415.7,408.7 L415.8,398.2 L416.2,398.5 L416.4,405.6 L417.9,406.0" fill="none" stroke="#000" stroke-width="1.4" stroke-linejoin="round"/>
<path d="M320.0,408.2 L321.5,408.0 L323.0,408.3 L324.5,408.0 L326.0,408.0 L327.5,408.3 L329.0,408.2 L330.5,408.2 L332.0,408.2 L333.5,408.3 L335.0,408.1 L336.5,408.3 L338.0,408.2 L339.5,408.3 L341.0,408.1 L342.5,408.2 L344.0,408.2 L345.5,408.0 L347.0,408.0 L348.5,408.2 L350.0,407.9 L351.5,408.3 L353.0,408.0 L354.5,407.9 L356.0,407.9 L357.5,408.3 L359.0,408.1 L360.5,408.0 L362.0,407.9 L363.5,407.9 L365.0,408.2 L366.5,408.2 L368.0,408.2 L369.5,408.2 L371.0,407.9 L372.5,408.2 L374.0,408.1 L375.5,408.3 L377.0,408.3 L378.5,408.3 L380.0,407.9 L381.5,408.3 L383.0,408.3 L384.5,408.3 L386.0,407.9 L387.5,408.0 L389.0,408.0 L390.5,407.9 L392.0,408.3 L393.5,408.3 L395.0,408.2 L396.5,408.3 L398.0,408.2 L399.5,408.0 L401.0,407.9 L402.5,407.9 L404.0,408.2 L405.5,408.0 L407.0,408.0 L408.5,408.1 L410.0,407.9 L411.5,408.0 L413.0,408.0 L414.5,408.2 L416.0,408.1 L417.5,408.0 L419.0,408.3 L420.5,408.1 L422.0,408.3 L423.5,408.2 L425.0,407.9 L426.5,408.1 L428.0,408.1 L429.5,408.2 L431.0,408.1 L432.5,408.2 L434.0,408.1 L435.5,408.0 L437.0,408.3 L438.5,407.9 L440.0,408.3 L441.5,408.0 L443.0,407.9 L444.5,408.0 L446.0,408.2 L447.5,408.3 L449.0,407.9 L450.5,408.1 L452.0,408.1 L453.5,408.3 L455.0,408.0 L456.5,408.1 L458.0,408.1 L459.5,408.3 L461.0,408.0 L462.5,408.3 L464.0,408.0 L465.5,408.0 L467.0,408.2 L468.5,408.1 L470.0,407.9 L471.5,408.2 L473.0,407.9 L474.5,408.3 L476.0,408.2 L477.5,408.3 L479.0,408.2 L480.5,408.1 L482.0,408.1 L483.5,408.1 L485.0,408.3 L486.5,407.9 L488.0,408.3 L489.5,407.9 L491.0,408.0 L492.5,408.0 L494.0,408.3 L495.5,408.1 L497.0,408.1 L498.5,408.3 L500.0,408.0 L501.5,408.1 L503.0,408.1 L504.5,408.2 L506.0,408.2 L507.5,408.2 L509.0,408.1 L510.5,408.0" fill="none" stroke="#000" stroke-width="1.6" stroke-dasharray="5,2.2"/>
<line x1="421" y1="272.3" x2="435" y2="272.3" stroke="#000" stroke-width="1.6" stroke-dasharray="4.5,2"/>
<text x="442.30" y="275.40" font-size="8.9" text-anchor="start" >Control</text>
<line x1="421.00" y1="287.60" x2="435.00" y2="287.60" stroke="#000" stroke-width="1.5"/>
<text x="442.30" y="290.70" font-size="8.9" text-anchor="start" >Histones + IgG2a</text>
<line x1="421.00" y1="302.40" x2="435.00" y2="302.40" stroke="#a3a3a3" stroke-width="1.3"/>
<text x="442.30" y="305.50" font-size="8.9" text-anchor="start" >Histones + a-TLR2</text>
<line x1="421.00" y1="317.20" x2="435.00" y2="317.20" stroke="#5a5a5a" stroke-width="1.3"/>
<text x="442.30" y="320.30" font-size="8.9" text-anchor="start" >Histones + a-TLR4</text>
</svg>
</body></html>
